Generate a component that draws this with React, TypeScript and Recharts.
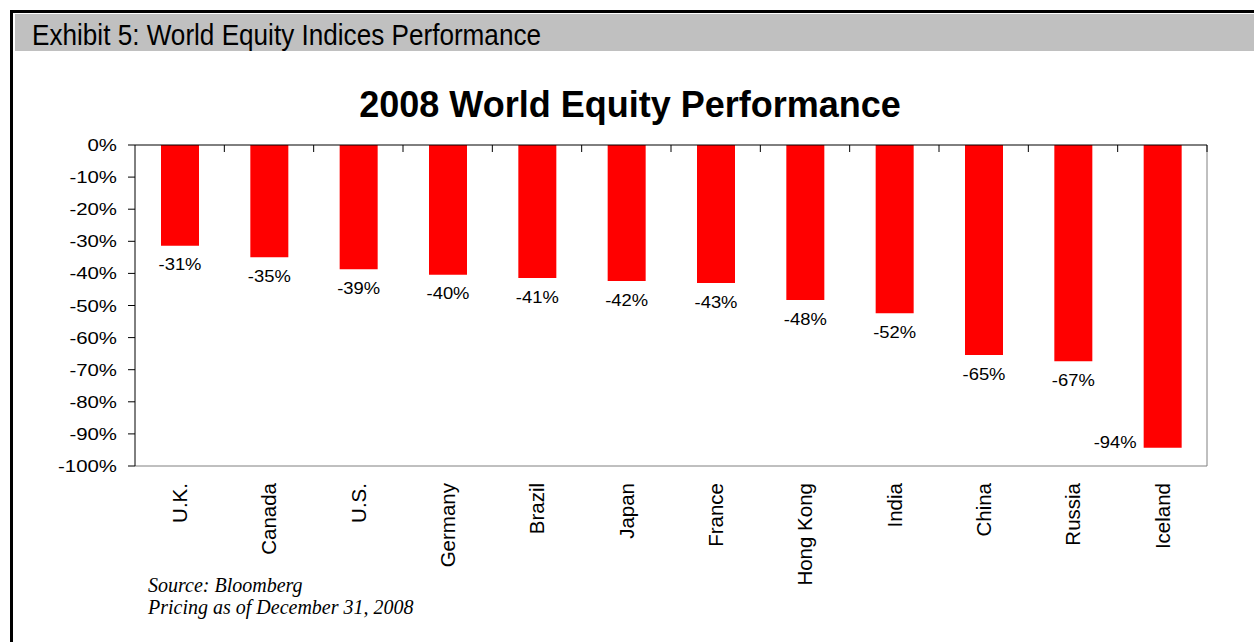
import { BarChart, Bar, XAxis, YAxis, LabelList } from 'recharts'

const countries = ['U.K.', 'Canada', 'U.S.', 'Germany', 'Brazil', 'Japan', 'France', 'Hong Kong', 'India', 'China', 'Russia', 'Iceland']
const returns = [-31.4, -35.0, -38.7, -40.4, -41.4, -42.4, -43.0, -48.3, -52.4, -65.4, -67.4, -94.3]
const yTicks = [0, -10, -20, -30, -40, -50, -60, -70, -80, -90, -100]

const data = countries.map((country, i) => ({ country, value: returns[i] }))

const SANS = '"Liberation Sans", Arial, sans-serif'
const SERIF = '"Liberation Serif", "Times New Roman", serif'

// the original's small labels are drawn wide, so stretch them a bit
function WideText({ x, y, anchor, size, stretch, children }: any) {
  return (
    <g transform={`translate(${x}, ${y}) scale(${stretch}, 1)`}>
      <text x={0} y={0} dy="0.355em" textAnchor={anchor} fontFamily={SANS} fontSize={size} fill="#000">
        {children}
      </text>
    </g>
  )
}

function YTick(props: any) {
  const { x, y, payload } = props
  return <WideText x={x} y={y} anchor="end" size={17} stretch={1.2}>{`${payload.value}%`}</WideText>
}

function CategoryTick(props: any) {
  const { x, y, payload } = props
  return (
    <text
      x={x}
      y={y}
      dy="0.355em"
      textAnchor="end"
      transform={`rotate(-90, ${x}, ${y})`}
      fontFamily={SANS}
      fontSize={20.5}
      fill="#000"
    >
      {payload.value}
    </text>
  )
}

// tick marks sit on category boundaries, hanging down from the zero line
function BoundaryTick(props: any) {
  const { x, y, payload, width, visibleTicksCount } = props
  const half = payload?.offset ? payload.offset : width / visibleTicksCount / 2
  return <line x1={x + half} x2={x + half} y1={y} y2={y + 7} stroke="#000" strokeWidth={1} />
}

function BarValue(props: any) {
  const { x, y, width, height, value } = props
  const end = Math.max(y, y + height)
  const text = `${Math.round(value)}%`
  if (value <= -90) {
    return <WideText x={x - 7} y={end - 5} anchor="end" size={16} stretch={1.15}>{text}</WideText>
  }
  return <WideText x={x + width / 2} y={end + 19} anchor="middle" size={16} stretch={1.15}>{text}</WideText>
}

export default function App() {
  return (
    <div style={{ position: 'absolute', left: 0, top: 0, width: 1254, height: 642, background: '#fff', overflow: 'hidden' }}>
      <div style={{ position: 'absolute', left: 0, top: 0 }}>
        <BarChart width={1254} height={642} data={data} margin={{ top: 125, right: 46, bottom: 26, left: 55 }}>
          <XAxis
            dataKey="country"
            interval={0}
            height={150}
            axisLine={{ stroke: '#808080' }}
            tickLine={false}
            tickSize={0}
            tickMargin={17}
            tick={(p: any) => <CategoryTick {...p} />}
          />
          <YAxis
            type="number"
            domain={[-100, 0]}
            ticks={yTicks}
            interval={0}
            width={80}
            axisLine={{ stroke: '#000' }}
            tickLine={{ stroke: '#000' }}
            tickSize={7}
            tickMargin={11}
            tick={(p: any) => <YTick {...p} />}
          />
          <YAxis
            yAxisId="right"
            orientation="right"
            type="number"
            domain={[-100, 0]}
            width={1}
            axisLine={{ stroke: '#808080' }}
            tick={false}
            tickLine={false}
          />
          <Bar dataKey="value" fill="#ff0000" barSize={38} isAnimationActive={false}>
            <LabelList dataKey="value" content={(p: any) => <BarValue {...p} />} />
          </Bar>
          <XAxis
            xAxisId="top"
            dataKey="country"
            orientation="top"
            interval={0}
            height={20}
            axisLine={{ stroke: '#000' }}
            tickLine={false}
            tickSize={0}
            tickMargin={0}
            tick={(p: any) => <BoundaryTick {...p} />}
          />
        </BarChart>
      </div>
      <svg width={1254} height={642} style={{ position: 'absolute', left: 0, top: 0, pointerEvents: 'none' }}>
        <rect x={10} y={10} width={1244} height={3} fill="#000" />
        <rect x={10} y={10} width={3} height={632} fill="#000" />
        <rect x={15} y={14} width={1239} height={37} fill="#c0c0c0" />
        <text x={32} y={45} fontFamily={SANS} fontSize={30} fill="#000" textLength={509} lengthAdjust="spacingAndGlyphs">
          Exhibit 5: World Equity Indices Performance
        </text>
        <text x={630} y={117} textAnchor="middle" fontFamily={SANS} fontSize={36} fontWeight="bold" fill="#000">
          2008 World Equity Performance
        </text>
        <text x={148} y={592} fontFamily={SERIF} fontStyle="italic" fontSize={20} fill="#000">
          Source: Bloomberg
        </text>
        <text x={148} y={614} fontFamily={SERIF} fontStyle="italic" fontSize={20} fill="#000">
          Pricing as of December 31, 2008
        </text>
      </svg>
    </div>
  )
}
